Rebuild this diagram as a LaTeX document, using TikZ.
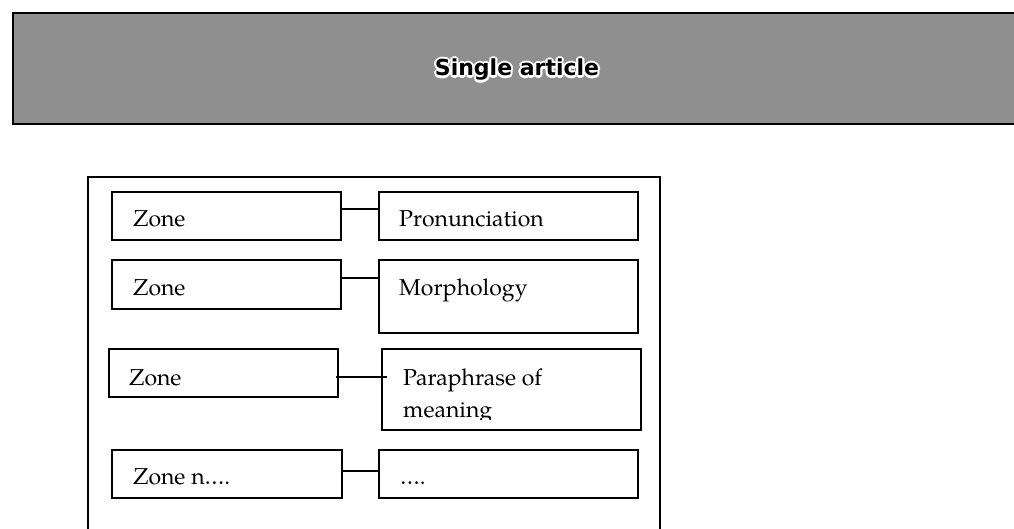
\documentclass[tikz,border=0pt]{standalone}
\usepackage{fontspec}
\setmainfont{TeX Gyre Pagella}
\newfontfamily\headfont{DejaVu Sans}
\usetikzlibrary{calc}
\definecolor{headgray}{rgb}{0.56,0.56,0.56}

% bold title with a white halo around the letters
\newcommand\halotext[1]{%
  \foreach \a in {0,45,...,315}{%
    \pgfmathsetlengthmacro\hx{2.2pt*cos(\a)}%
    \pgfmathsetlengthmacro\hy{2.2pt*sin(\a)}%
    \rlap{\hspace*{\hx}\raisebox{\hy}{\textcolor{white}{#1}}}%
  }#1}

\begin{document}
\begin{tikzpicture}[x=1pt,y=-1pt,
  box/.style={draw=black, line width=1.6pt, anchor=north west, inner sep=0pt},
  lbl/.style={anchor=base west, inner sep=0pt, font=\fontsize{23}{32}\selectfont},
  link/.style={line width=1.5pt},
  titletext/.style={anchor=base, inner sep=0pt, font=\headfont\bfseries\fontsize{22}{26}\selectfont},
]
\useasboundingbox (0,0) rectangle (1014,529);

% header band
\node[draw=black, fill=headgray, line width=1.6pt, anchor=north west, inner sep=0pt,
      minimum width=1020pt, minimum height=111pt] (head) at (12,12) {};
\node[titletext] (title) at (517,76) {\halotext{Single article}};

% article frame (open at the bottom)
\draw[line width=1.8pt] (88,540) -- (88,177) -- (660,177) -- (660,540);

% zones and their contents
\node[box, minimum width=229pt, minimum height=48pt] (z1) at (111,191) {};
\node[box, minimum width=259pt, minimum height=48pt] (p1) at (378,191) {};
\node[box, minimum width=229pt, minimum height=49pt] (z2) at (111,259) {};
\node[box, minimum width=259pt, minimum height=73pt] (p2) at (378,259) {};
\node[box, minimum width=229pt, minimum height=48pt] (z3) at (108,348) {};
\node[box, minimum width=259pt, minimum height=81pt] (p3) at (381,348) {};
\node[box, minimum width=230pt, minimum height=48pt] (z4) at (111,449) {};
\node[box, minimum width=259pt, minimum height=48pt] (p4) at (378,449) {};

\node[lbl] (z1t) at (133,227) {Zone};
\node[lbl] (p1t) at (399,227) {Pronunciation};
\node[lbl] (z2t) at (133,295) {Zone};
\node[lbl] (p2t) at (399,295) {Morphology};
\node[lbl] (z3t) at (129,385) {Zone};
\node[lbl] (p3t) at (403,385) {Paraphrase of};
\begin{scope}
  \clip (382,395) rectangle (639,419);
  \node[lbl] (p3u) at (403,417) {meaning};
\end{scope}
\node[lbl] (z4t) at (133,484) {Zone n….};
\node[lbl] (p4t) at (400,484) {….};

% connectors
\draw[link] ($(z1.north east)+(0,18)$) -- ($(p1.north west)+(0,18)$);
\draw[link] ($(z2.north east)+(0,19)$) -- ($(p2.north west)+(0,19)$);
\draw[link] ($(z3.north east)+(-3,29)$) -- ($(p3.north west)+(6,29)$);
\draw[link] ($(z4.north east)+(0,22)$) -- ($(p4.north west)+(0,22)$);
\end{tikzpicture}
\end{document}
